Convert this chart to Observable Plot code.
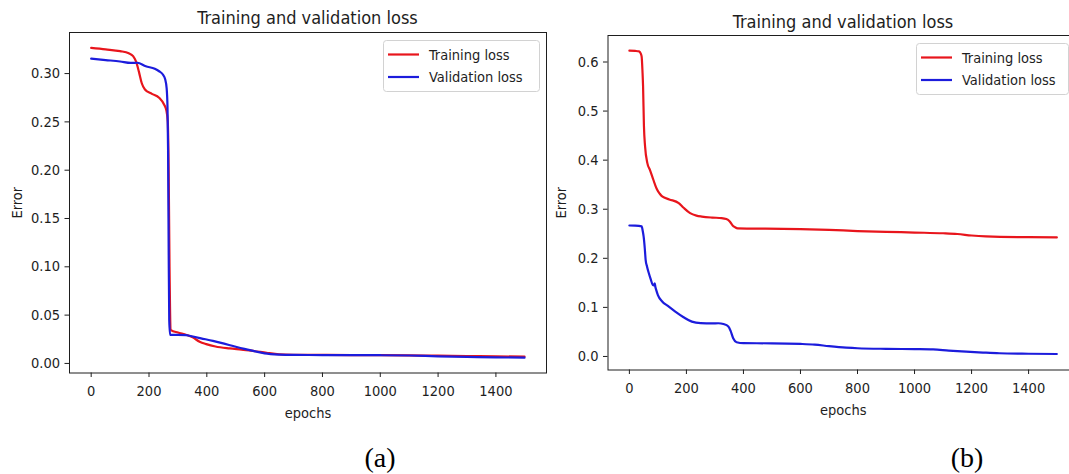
<!DOCTYPE html>
<html>
<head>
<meta charset="utf-8">
<script src="https://cdn.jsdelivr.net/npm/d3@7"></script>
<script src="https://cdn.jsdelivr.net/npm/@observablehq/plot@0.6"></script>
<style>
html, body { margin:0; padding:0; background:#fff; overflow:hidden; }
#root { position:relative; width:1069px; height:474px; overflow:hidden; background:#fff; }
</style>
</head>
<body>
<div id="root"></div>
<script>
// ---------------- data ----------------
const xTicks = [0, 200, 400, 600, 800, 1000, 1200, 1400];
const aYTicks = [0, 0.05, 0.10, 0.15, 0.20, 0.25, 0.30];
const bYTicks = [0, 0.1, 0.2, 0.3, 0.4, 0.5, 0.6];
const seriesNames = ["Training loss", "Validation loss"];
const panelTitles = ["Training and validation loss", "Training and validation loss"];
const panelTags = ["(a)", "(b)"];
const xLabel = "epochs";
const yLabel = "Error";

// panel (a)
const aTrainEpoch = [0, 50, 100, 130, 145, 155, 165, 175, 186, 210, 235, 252, 260, 265, 268, 271, 276, 300, 330, 351, 375, 398, 430, 479, 520, 560, 607, 650, 700, 800, 900, 1000, 1100, 1200, 1300, 1400, 1499];
const aTrainLoss  = [0.3265, 0.325, 0.3232, 0.321, 0.318, 0.3125, 0.302, 0.290, 0.2835, 0.279, 0.275, 0.268, 0.262, 0.25, 0.2, 0.1, 0.0345, 0.032, 0.0295, 0.027, 0.0225, 0.020, 0.0175, 0.0155, 0.0143, 0.013, 0.011, 0.0095, 0.009, 0.0088, 0.0087, 0.0086, 0.0084, 0.0080, 0.0076, 0.0073, 0.0071];
const aValEpoch = [0, 50, 100, 137, 160, 189, 220, 235, 248, 256, 261, 264, 266, 268, 270, 273, 300, 328, 340, 380, 421, 460, 491, 530, 560, 600, 650, 700, 800, 1000, 1100, 1200, 1300, 1400, 1499];
const aValLoss  = [0.3155, 0.314, 0.3125, 0.311, 0.3112, 0.3075, 0.305, 0.3024, 0.299, 0.294, 0.285, 0.265, 0.22, 0.12, 0.045, 0.0296, 0.0296, 0.0294, 0.0286, 0.026, 0.0234, 0.0205, 0.018, 0.015, 0.013, 0.0105, 0.0092, 0.0088, 0.0087, 0.0085, 0.0082, 0.0074, 0.0068, 0.0063, 0.006];

// panel (b)
const bTrainEpoch = [0, 20, 34, 40, 43, 46, 48, 51, 55, 63, 72, 80, 90, 97, 106, 115, 140, 173, 190, 213, 235, 254, 290, 323, 340, 352, 362, 370, 380, 450, 600, 700, 800, 900, 1000, 1100, 1150, 1200, 1250, 1300, 1400, 1499];
const bTrainLoss  = [0.623, 0.6225, 0.6217, 0.617, 0.611, 0.58, 0.55, 0.47, 0.428, 0.394, 0.38, 0.367, 0.35, 0.34, 0.332, 0.326, 0.32, 0.3125, 0.303, 0.292, 0.287, 0.285, 0.283, 0.282, 0.28, 0.275, 0.267, 0.2635, 0.261, 0.2605, 0.2595, 0.258, 0.2555, 0.254, 0.2525, 0.251, 0.2495, 0.2465, 0.2445, 0.2435, 0.243, 0.2425];
const bValEpoch = [0, 20, 43, 47, 50, 54, 57, 62, 68, 75, 82, 86, 89, 91, 94, 100, 115, 135, 161, 190, 219, 250, 290, 312, 330, 347, 355, 364, 376, 400, 500, 600, 650, 700, 760, 800, 900, 1000, 1065, 1120, 1181, 1240, 1297, 1400, 1499];
const bValLoss  = [0.2668, 0.2665, 0.265, 0.255, 0.244, 0.22, 0.197, 0.183, 0.17, 0.157, 0.146, 0.145, 0.149, 0.142, 0.1356, 0.125, 0.112, 0.103, 0.0914, 0.08, 0.071, 0.068, 0.0675, 0.0677, 0.066, 0.061, 0.052, 0.037, 0.029, 0.027, 0.0268, 0.0255, 0.024, 0.021, 0.018, 0.0167, 0.0155, 0.015, 0.0145, 0.012, 0.0098, 0.008, 0.0065, 0.0055, 0.005];

// ---------------- style ----------------
const RED = "#e8151c", BLUE = "#1c1cdc", INK = "#1e1e1e";
const SANS = '"DejaVu Sans Condensed","DejaVu Sans",sans-serif';
const SERIF = '"Liberation Serif","Times New Roman",serif';

const rows = (e, v) => e.map((x, i) => ({epoch: x, loss: v[i]}));
const root = document.getElementById("root");

function panel(c) {
  const svg = Plot.plot({
    width: c.width, height: c.height,
    marginLeft: c.ml, marginRight: c.mr, marginTop: c.mt, marginBottom: c.mb,
    style: {fontFamily: SANS, fontSize: "14.5px", color: INK, background: "transparent", overflow: "visible"},
    x: {domain: [-75, 1575], ticks: xTicks, tickFormat: d => String(d), tickSize: 4.5, tickPadding: 8,
        label: xLabel, labelAnchor: "center", labelArrow: "none", labelOffset: 44.5},
    y: {domain: c.yDomain, ticks: c.yTicks, tickFormat: c.yFormat, tickSize: 4.5, tickPadding: 5,
        label: yLabel, labelAnchor: "center", labelArrow: "none", labelOffset: c.yLabelOffset},
    marks: [
      Plot.lineY(rows(c.trainE, c.trainV), {x: "epoch", y: "loss", stroke: RED, strokeWidth: 2.2, curve: "monotone-x"}),
      Plot.lineY(rows(c.valE, c.valV), {x: "epoch", y: "loss", stroke: BLUE, strokeWidth: 2.2, curve: "monotone-x"}),
      Plot.frame({stroke: INK, strokeWidth: 1})
    ]
  });
  svg.style.position = "absolute";
  svg.style.left = c.left + "px";
  svg.style.top = c.top + "px";
  root.appendChild(svg);
}

panel({left: 0, top: 0, width: 560, height: 430, ml: 69, mr: 14, mt: 32, mb: 57.5,
  yDomain: [-0.0099, 0.3425], yTicks: aYTicks, yFormat: d3.format(".2f"), yLabelOffset: 57.5,
  trainE: aTrainEpoch, trainV: aTrainLoss, valE: aValEpoch, valV: aValLoss});

panel({left: 550, top: 0, width: 540, height: 430, ml: 57.5, mr: 12, mt: 35, mb: 60.5,
  yDomain: [-0.0276, 0.654], yTicks: bYTicks, yFormat: d3.format(".1f"), yLabelOffset: 52,
  trainE: bTrainEpoch, trainV: bTrainLoss, valE: bValEpoch, valV: bValLoss});

// ---------------- overlay: titles, legends, tags ----------------
const ov = d3.select(root).append("svg")
  .attr("width", 1069).attr("height", 474)
  .style("position", "absolute").style("left", "0px").style("top", "0px");

const titles = [{x: 307.5, y: 24}, {x: 843, y: 28}];
titles.forEach((t, i) => ov.append("text")
  .attr("x", t.x).attr("y", t.y).attr("text-anchor", "middle")
  .attr("font-family", SANS).attr("font-size", 18).attr("fill", INK)
  .text(panelTitles[i]));

const legends = [{x: 383, y: 40, w: 156, h: 51}, {x: 916, y: 43, w: 152, h: 51}];
const colors = [RED, BLUE];
legends.forEach(L => {
  const g = ov.append("g").attr("transform", `translate(${L.x},${L.y})`);
  g.append("rect").attr("x", 0.5).attr("y", 0.5).attr("width", L.w).attr("height", L.h)
    .attr("rx", 3).attr("fill", "#fff").attr("fill-opacity", 0.85).attr("stroke", "#d2d2d2");
  seriesNames.forEach((name, i) => {
    const cy = 14.5 + i * 22.5;
    g.append("line").attr("x1", 5).attr("x2", 36).attr("y1", cy).attr("y2", cy)
      .attr("stroke", colors[i]).attr("stroke-width", 2.2);
    g.append("text").attr("x", 46).attr("y", cy).attr("dy", "0.35em")
      .attr("font-family", SANS).attr("font-size", 14.5).attr("fill", INK).text(name);
  });
});

const tags = [{x: 380, y: 467}, {x: 967, y: 467}];
tags.forEach((t, i) => ov.append("text")
  .attr("x", t.x).attr("y", t.y).attr("text-anchor", "middle")
  .attr("font-family", SERIF).attr("font-size", 28).attr("fill", "#000")
  .text(panelTags[i]));
</script>
</body>
</html>
